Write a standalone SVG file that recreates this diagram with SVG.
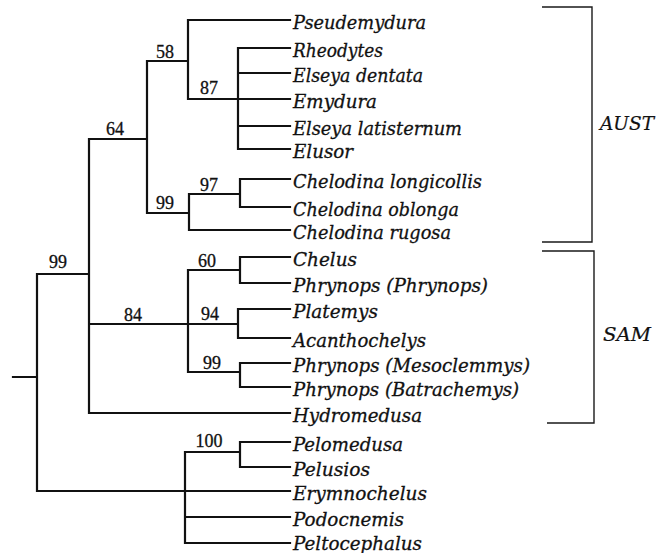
<svg xmlns="http://www.w3.org/2000/svg" width="660" height="553" viewBox="0 0 660 553">
<style>
.br{fill:none;stroke:#111;stroke-width:2.2;stroke-linecap:square}
.bk{fill:none;stroke:#1a1a1a;stroke-width:1.4}
.lf{font-family:"DejaVu Serif","Liberation Serif",serif;font-style:italic;font-size:18px;fill:#111;stroke:#111;stroke-width:0.3}
.bs{font-family:"Liberation Serif","DejaVu Serif",serif;font-size:18px;fill:#111;stroke:#111;stroke-width:0.3;text-anchor:middle}
.gp{font-family:"DejaVu Serif","Liberation Serif",serif;font-style:italic;font-size:18px;fill:#111;stroke:#111;stroke-width:0.2}
</style>
<rect width="660" height="553" fill="#fff"/>
<g id="connectors">
<path class="br" d="M13 377H37M37 274V491M37 274H89M89 139V413M89 139H147M147 61V213M147 61H188M188 20V99M188 20H290M188 99H238M238 48V149M238 48H290M238 73H290M238 99H290M238 126H290M238 149H290M147 213H189M189 194V230M189 230H290M189 194H240M240 179V207M240 179H290M240 207H290M89 324H188M188 270V372M188 270H240M240 257V283M240 257H290M240 283H290M188 324H238M238 309V338M238 309H290M238 338H290M188 372H240M240 363V387M240 363H290M240 387H290M89 413H290M37 491H290M185 452V543M185 452H240M240 442V467M240 442H290M240 467H290M185 517H290M185 543H290"/>
</g>
<g id="support">
<text class="bs" x="165" y="58">58</text>
<text class="bs" x="209" y="94">87</text>
<text class="bs" x="115" y="135">64</text>
<text class="bs" x="209" y="191">97</text>
<text class="bs" x="165" y="209">99</text>
<text class="bs" x="58" y="268">99</text>
<text class="bs" x="207" y="267">60</text>
<text class="bs" x="133" y="321">84</text>
<text class="bs" x="210" y="320">94</text>
<text class="bs" x="212" y="369">99</text>
<text class="bs" x="209" y="447">100</text>
</g>
<g id="leaves">
<text class="lf" x="293" y="29" textLength="133" lengthAdjust="spacingAndGlyphs">Pseudemydura</text>
<text class="lf" x="293" y="57" textLength="90" lengthAdjust="spacingAndGlyphs">Rheodytes</text>
<text class="lf" x="293" y="82" textLength="130" lengthAdjust="spacingAndGlyphs">Elseya dentata</text>
<text class="lf" x="293" y="108" textLength="84" lengthAdjust="spacingAndGlyphs">Emydura</text>
<text class="lf" x="293" y="135" textLength="169" lengthAdjust="spacingAndGlyphs">Elseya latisternum</text>
<text class="lf" x="293" y="158" textLength="60" lengthAdjust="spacingAndGlyphs">Elusor</text>
<text class="lf" x="293" y="188" textLength="189" lengthAdjust="spacingAndGlyphs">Chelodina longicollis</text>
<text class="lf" x="293" y="216" textLength="166" lengthAdjust="spacingAndGlyphs">Chelodina oblonga</text>
<text class="lf" x="293" y="239" textLength="158" lengthAdjust="spacingAndGlyphs">Chelodina rugosa</text>
<text class="lf" x="293" y="266" textLength="64" lengthAdjust="spacingAndGlyphs">Chelus</text>
<text class="lf" x="293" y="292" textLength="195" lengthAdjust="spacingAndGlyphs">Phrynops (Phrynops)</text>
<text class="lf" x="293" y="318" textLength="85" lengthAdjust="spacingAndGlyphs">Platemys</text>
<text class="lf" x="293" y="347" textLength="133" lengthAdjust="spacingAndGlyphs">Acanthochelys</text>
<text class="lf" x="293" y="372" textLength="237" lengthAdjust="spacingAndGlyphs">Phrynops (Mesoclemmys)</text>
<text class="lf" x="293" y="396" textLength="226" lengthAdjust="spacingAndGlyphs">Phrynops (Batrachemys)</text>
<text class="lf" x="293" y="422" textLength="129" lengthAdjust="spacingAndGlyphs">Hydromedusa</text>
<text class="lf" x="293" y="451" textLength="110" lengthAdjust="spacingAndGlyphs">Pelomedusa</text>
<text class="lf" x="293" y="476" textLength="77" lengthAdjust="spacingAndGlyphs">Pelusios</text>
<text class="lf" x="293" y="500" textLength="134" lengthAdjust="spacingAndGlyphs">Erymnochelus</text>
<text class="lf" x="293" y="526" textLength="111" lengthAdjust="spacingAndGlyphs">Podocnemis</text>
<text class="lf" x="293" y="550" textLength="129" lengthAdjust="spacingAndGlyphs">Peltocephalus</text>
</g>
<g id="group-aust">
<path class="bk" d="M542 7H592V242H542"/>
<text class="gp" x="600" y="130" textLength="54" lengthAdjust="spacingAndGlyphs">AUST</text>
</g>
<g id="group-sam">
<path class="bk" d="M542 251H594V423H547"/>
<text class="gp" x="603" y="341" textLength="48" lengthAdjust="spacingAndGlyphs">SAM</text>
</g>
</svg>
